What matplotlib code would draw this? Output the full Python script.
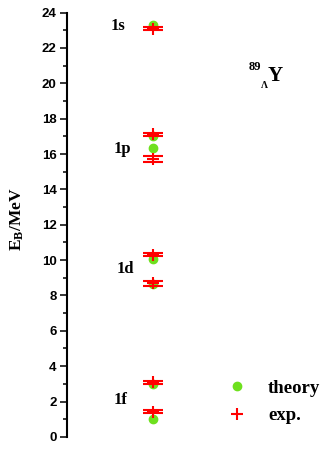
import numpy as np
import matplotlib
matplotlib.use("Agg")
import matplotlib.pyplot as plt
import matplotlib.transforms as mtransforms
from matplotlib.lines import Line2D

plt.rcParams["mathtext.fontset"] = "custom"
plt.rcParams["mathtext.rm"] = "Liberation Serif"
plt.rcParams["mathtext.bf"] = "Liberation Serif:bold"

# binding energies of the Lambda levels in 89_Lambda Y (MeV)
theory_eb = [23.3, 17.0, 16.35, 10.05, 8.65, 3.0, 1.0]
exp_eb = [23.08, 17.11, 15.72, 10.31, 8.69, 3.09, 1.42]
exp_err = [0.09, 0.10, 0.18, 0.08, 0.13, 0.08, 0.08]
shell_labels = ["1s", "1p", "1d", "1f"]
shell_label_y = [23.02, 16.05, 9.29, 1.87]

c_theory, c_exp = "#6ee01e", "#ff0000"
serif = "Liberation Serif"
sans = "Liberation Sans"


def draw_figure():
    fig = plt.figure(figsize=(3.27, 4.49), dpi=100)
    ax = fig.add_axes([0.205, 0.027, 0.775, 0.945])

    xpos = np.ones(len(theory_eb))
    ax.plot(xpos, theory_eb, "o", color=c_theory, markersize=6, zorder=2)
    ax.errorbar(np.ones(len(exp_eb)), exp_eb, yerr=exp_err, fmt="+",
                color=c_exp, ecolor=c_exp, markersize=9, mew=1.5,
                elinewidth=1.2, capsize=7.5, capthick=1.5, zorder=3)

    ax.set_xlim(0, 2.94)
    ax.set_ylim(0, 24)
    ax.set_yticks(np.arange(0, 25, 2))
    ax.set_yticks(np.arange(0, 25, 1), minor=True)
    for lab in ax.get_yticklabels():
        lab.set_fontfamily(sans)
        lab.set_fontweight("bold")
        lab.set_fontsize(9.5)
    ax.tick_params(axis="y", which="major", direction="out", length=5,
                   width=1.1, pad=2.5)
    ax.tick_params(axis="y", which="minor", direction="out", length=3,
                   width=1.1)
    ax.tick_params(axis="x", bottom=False, labelbottom=False)
    for s in ["top", "right", "bottom"]:
        ax.spines[s].set_visible(False)
    ax.spines["left"].set_linewidth(1.5)

    fig.text(17.5 / 327, 1 - 219 / 449, r"$\mathbf{E_B/MeV}$", rotation=90,
             ha="center", va="center", fontsize=12.5)

    # shell labels next to the levels
    trans = mtransforms.blended_transform_factory(ax.transAxes, ax.transData)
    label_x = [0.20, 0.218, 0.229, 0.21]
    for lab, lx, ly in zip(shell_labels, label_x, shell_label_y):
        ax.text(lx, ly, lab, transform=trans, ha="center", va="baseline",
                fontsize=12, fontweight="bold", family=serif)

    # hypernucleus label
    fig.text(254.5 / 327, 1 - 67 / 449, "89", ha="center", va="center",
             fontsize=9, fontweight="bold", family=serif)
    fig.text(264 / 327, 1 - 86 / 449, "Λ", ha="center", va="center",
             fontsize=7, fontweight="bold", family=serif)
    fig.text(268 / 327, 1 - 76 / 449, "Y", ha="left", va="center",
             fontsize=15, fontweight="bold", family=serif)

    handles = [
        Line2D([0], [0], marker="o", color=c_theory, linestyle="none",
               markersize=6),
        Line2D([0], [0], marker="+", color=c_exp, linestyle="none",
               markersize=9, mew=1.5),
    ]
    fig.legend(handles=handles, labels=["theory", "exp."], loc="upper left",
               bbox_to_anchor=(0.631, 1 - 363 / 449), frameon=False,
               prop={"family": serif, "weight": "bold", "size": 13.5},
               handlelength=1.5, handletextpad=0.9, labelspacing=0.55,
               borderpad=0.4, numpoints=1)

    fig.savefig("out.png", dpi=100)


if __name__ == "__main__":
    draw_figure()
